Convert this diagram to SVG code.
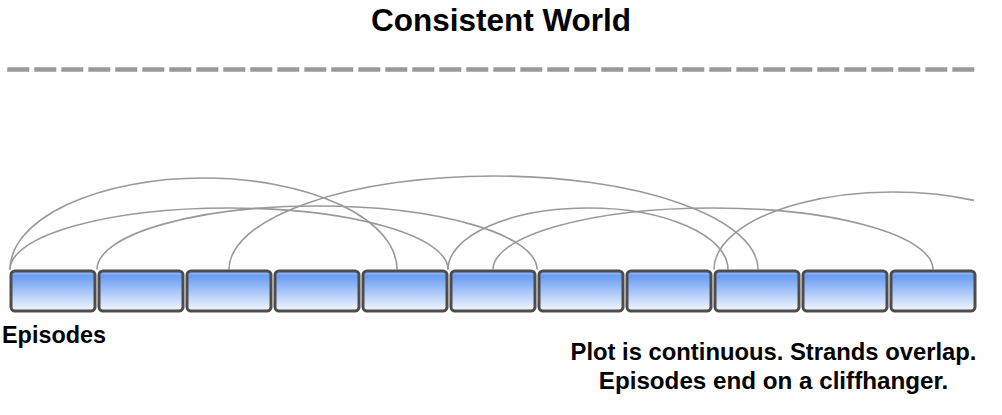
<svg xmlns="http://www.w3.org/2000/svg" width="1002" height="415" viewBox="0 0 1002 415">
  <defs>
    <linearGradient id="boxGrad" x1="0" y1="0" x2="0" y2="1">
      <stop offset="0" stop-color="#a8c4f7"/>
      <stop offset="0.12" stop-color="#6a9cf3"/>
      <stop offset="1" stop-color="#f4f7ff"/>
    </linearGradient>
  </defs>
  <style>
    .box { fill: url(#boxGrad); stroke: #4d4d4d; stroke-width: 3; }
    .arc { fill: none; stroke: #999999; stroke-width: 1.6; }
    .txt { font-family: "Liberation Sans", Arial, sans-serif; font-weight: bold; fill: #000; }
  </style>
  <rect width="1002" height="415" fill="#ffffff"/>

  <g id="title">
    <text class="txt" x="501" y="31" font-size="31.5" text-anchor="middle">Consistent World</text>
  </g>

  <g id="world-line">
    <line x1="7.3" y1="69.5" x2="974.3" y2="69.5" stroke="#999999" stroke-width="4.5" stroke-dasharray="22 5"/>
  </g>

  <g id="connectors">
    <path class="arc" d="M10,269.5 A193.5,91.5 0 0 1 397,269.5"/>
    <path class="arc" d="M10,269.5 A219,61.5 0 0 1 448,269.5"/>
    <path class="arc" d="M97,269.5 A220,63.5 0 0 1 537,269.5"/>
    <path class="arc" d="M229,269.5 A264.5,93.5 0 0 1 758,269.5"/>
    <path class="arc" d="M448,269.5 A140,61.5 0 0 1 728,269.5"/>
    <path class="arc" d="M493,269.5 A220,61.5 0 0 1 933,269.5"/>
    <path class="arc" d="M714,269.5 A179,77.5 0 0 1 974,200.4"/>
  </g>

  <g id="episodes">
    <g id="ep1"><rect class="box" x="11" y="271" width="84" height="40" rx="4"/></g>
    <g id="ep2"><rect class="box" x="99" y="271" width="84" height="40" rx="4"/></g>
    <g id="ep3"><rect class="box" x="187" y="271" width="84" height="40" rx="4"/></g>
    <g id="ep4"><rect class="box" x="275" y="271" width="84" height="40" rx="4"/></g>
    <g id="ep5"><rect class="box" x="363" y="271" width="84" height="40" rx="4"/></g>
    <g id="ep6"><rect class="box" x="451" y="271" width="84" height="40" rx="4"/></g>
    <g id="ep7"><rect class="box" x="539" y="271" width="84" height="40" rx="4"/></g>
    <g id="ep8"><rect class="box" x="627" y="271" width="84" height="40" rx="4"/></g>
    <g id="ep9"><rect class="box" x="715" y="271" width="84" height="40" rx="4"/></g>
    <g id="ep10"><rect class="box" x="803" y="271" width="84" height="40" rx="4"/></g>
    <g id="ep11"><rect class="box" x="891" y="271" width="84" height="40" rx="4"/></g>
  </g>

  <g id="labels">
    <text class="txt" x="2" y="343" font-size="23.4">Episodes</text>
    <text class="txt" x="773.5" y="360" font-size="23.8" text-anchor="middle">Plot is continuous. Strands overlap.</text>
    <text class="txt" x="773.5" y="389" font-size="24.2" text-anchor="middle">Episodes end on a cliffhanger.</text>
  </g>
</svg>
